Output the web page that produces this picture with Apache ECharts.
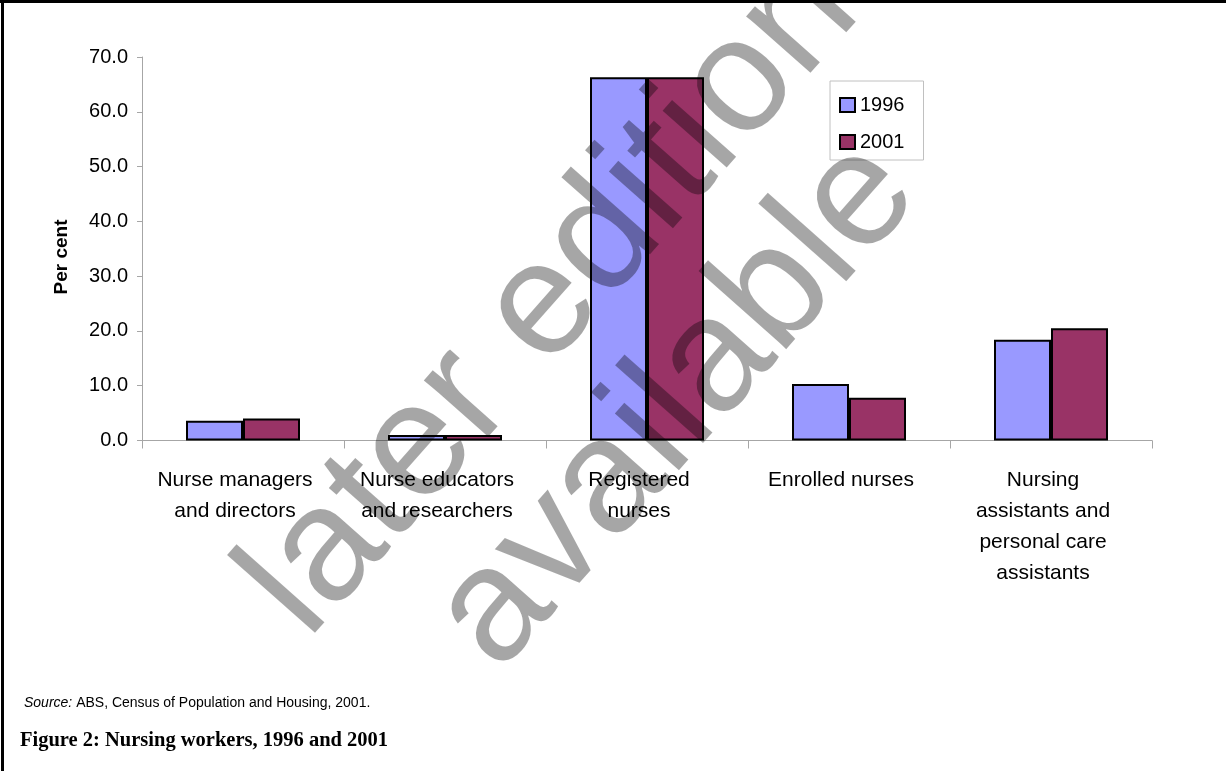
<!DOCTYPE html>
<html>
<head>
<meta charset="utf-8">
<script src="https://cdn.jsdelivr.net/npm/echarts@6/dist/echarts.min.js"></script>
<style>
  html, body { margin: 0; padding: 0; background: #fff; }
  #chart { width: 1226px; height: 771px; }
</style>
</head>
<body>
<div id="chart"></div>
<script>
// Occupation groups on the category axis
const categories = [
  'Nurse managers\nand directors',
  'Nurse educators\nand researchers',
  'Registered\nnurses',
  'Enrolled nurses',
  'Nursing\nassistants and\npersonal care\nassistants'
];
// Share of nursing workers (per cent) by census year
const seriesNames = ['1996', '2001'];
const values1996 = [3.6, 1.0, 66.3, 10.3, 18.4];
const values2001 = [4.0, 1.0, 66.3, 7.8, 20.5];
// Value axis range
const yMin = 0, yMax = 70, yStep = 10;

const sans = '"Liberation Sans", Arial, sans-serif';
const serif = '"Liberation Serif", "Times New Roman", serif';
const axisGrey = '#a6a6a6';
const deg = Math.PI / 180;

const chart = echarts.init(document.getElementById('chart'), null, { renderer: 'canvas' });

chart.setOption({
  animation: false,
  backgroundColor: '#ffffff',
  grid: { left: 142, top: 57, width: 1010, height: 383.5 },
  legend: {
    orient: 'vertical',
    left: 830,
    top: 81,
    padding: [14, 19, 8, 9],
    itemWidth: 15,
    itemHeight: 14,
    itemGap: 17,
    borderColor: '#c0c0c0',
    borderWidth: 1,
    icon: 'rect',
    data: seriesNames,
    textStyle: { fontFamily: sans, fontSize: 20, color: '#000' }
  },
  xAxis: {
    type: 'category',
    data: categories,
    axisLine: { lineStyle: { color: axisGrey, width: 1 } },
    axisTick: { show: true, length: 8, lineStyle: { color: axisGrey } },
    axisLabel: {
      interval: 0,
      fontFamily: sans,
      fontSize: 21,
      lineHeight: 31,
      color: '#000',
      margin: 24,
      padding: [0, 16, 0, 0]
    }
  },
  yAxis: {
    type: 'value',
    min: yMin,
    max: yMax,
    interval: yStep,
    axisLine: { show: true, lineStyle: { color: axisGrey, width: 1 } },
    axisTick: { show: true, length: 5, lineStyle: { color: axisGrey } },
    splitLine: { show: false },
    axisLabel: {
      formatter: v => v.toFixed(1),
      fontFamily: sans,
      fontSize: 20,
      color: '#000',
      margin: 14
    }
  },
  series: [
    {
      name: seriesNames[0],
      type: 'bar',
      data: values1996,
      barWidth: 57,
      barGap: '0%',
      itemStyle: { color: '#9999ff', borderColor: '#000', borderWidth: 2 }
    },
    {
      name: seriesNames[1],
      type: 'bar',
      data: values2001,
      barWidth: 57,
      barGap: '0%',
      itemStyle: { color: '#993366', borderColor: '#000', borderWidth: 2 }
    }
  ],
  graphic: [
    // page frame (top and left rules)
    { type: 'line', z: 50, shape: { x1: 0, y1: 1.5, x2: 1226, y2: 1.5 }, style: { stroke: '#000', lineWidth: 3 } },
    { type: 'line', z: 50, shape: { x1: 2.5, y1: 0, x2: 2.5, y2: 771 }, style: { stroke: '#000', lineWidth: 3 } },
    // value axis title
    {
      type: 'text', x: 62, y: 257, rotation: 90 * deg,
      style: {
        text: 'Per cent',
        font: 'bold 19px ' + sans,
        fill: '#000',
        align: 'center',
        verticalAlign: 'middle'
      }
    },
    {
      type: 'text', x: 24, y: 703,
      style: {
        text: '{i|Source:} ABS, Census of Population and Housing, 2001.',
        font: '14px ' + sans,
        fill: '#000',
        verticalAlign: 'middle',
        rich: { i: { fontStyle: 'italic', fontFamily: sans, fontSize: 14, fill: '#000' } }
      }
    },
    {
      type: 'text', x: 20, y: 741,
      style: {
        text: 'Figure 2: Nursing workers, 1996 and 2001',
        font: 'bold 20.5px ' + serif,
        fill: '#000',
        verticalAlign: 'middle'
      }
    },
    // diagonal "later edition available" stamp
    {
      type: 'text', z: 100, x: 335, y: 665, rotation: 48.5 * deg,
      style: {
        text: 'later edition',
        font: '162px ' + sans,
        fill: 'rgba(0,0,0,0.35)',
        align: 'left',
        verticalAlign: 'bottom'
      }
    },
    {
      type: 'text', z: 100, x: 526, y: 698, rotation: 48.5 * deg,
      style: {
        text: 'available',
        font: '162px ' + sans,
        fill: 'rgba(0,0,0,0.35)',
        align: 'left',
        verticalAlign: 'bottom'
      }
    }
  ]
});
</script>
</body>
</html>
